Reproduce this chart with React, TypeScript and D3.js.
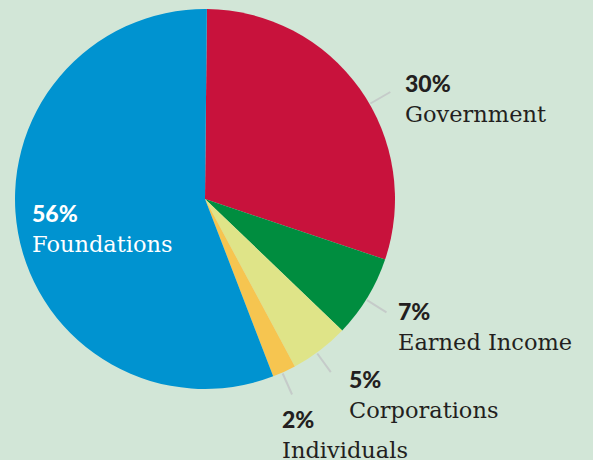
import React, { useEffect, useRef } from 'react';
import * as d3 from 'd3';

// Chart values
const categories = ['Government', 'Earned Income', 'Corporations', 'Individuals', 'Foundations'];
const shares = [30, 7, 5, 2, 56];
const colors = ['#C8123C', '#008D3F', '#DFE488', '#F6C550', '#0093D0'];

// Label layout (leader angle in degrees, text anchor point)
const labelLayout = [
  { angle: 60, x: 405, y: 92, leader: true, dark: true },
  { angle: 122, x: 398, y: 320, leader: true, dark: true },
  { angle: 144, x: 349, y: 388, leader: true, dark: true },
  { angle: 156, x: 282, y: 428, leader: true, dark: true },
  { angle: 0, x: 32, y: 222, leader: false, dark: false },
];

const W = 593;
const H = 460;

export default function App() {
  const svgRef = useRef<SVGSVGElement>(null);

  useEffect(() => {
    if (!svgRef.current) return;
    const svg = d3.select(svgRef.current);
    svg.selectAll('*').remove();

    const cx = 205;
    const cy = 199;
    const r = 190;

    svg.append('rect').attr('width', W).attr('height', H).attr('fill', '#D2E6D7');

    const pie = d3.pie<number>().sort(null).value(d => d).startAngle(0.01).endAngle(Math.PI * 2 + 0.01);
    const arc = d3.arc<d3.PieArcDatum<number>>().innerRadius(0).outerRadius(r);

    const g = svg.append('g').attr('transform', `translate(${cx},${cy})`);
    g.selectAll('path')
      .data(pie(shares))
      .enter()
      .append('path')
      .attr('d', arc)
      .attr('fill', (_, i) => colors[i]);

    // Leader lines
    labelLayout.forEach(l => {
      if (!l.leader) return;
      const a = (l.angle * Math.PI) / 180;
      g.append('line')
        .attr('x1', Math.sin(a) * (r + 1))
        .attr('y1', -Math.cos(a) * (r + 1))
        .attr('x2', Math.sin(a) * (r + 24))
        .attr('y2', -Math.cos(a) * (r + 24))
        .attr('stroke', '#C5CBC9')
        .attr('stroke-width', 2);
    });

    // Labels
    categories.forEach((name, i) => {
      const l = labelLayout[i];
      const fill = l.dark ? '#231F20' : '#FFFFFF';
      svg.append('text')
        .attr('x', l.x)
        .attr('y', l.y)
        .attr('fill', fill)
        .style('font-family', 'Lato, "DejaVu Sans", sans-serif')
        .style('font-weight', 900)
        .style('font-size', '23px')
        .text(`${shares[i]}%`);
      svg.append('text')
        .attr('x', l.x)
        .attr('y', l.y + 29.5)
        .attr('fill', fill)
        .style('font-family', '"DejaVu Serif", serif')
        .style('font-size', '22.5px')
        .text(name);
    });
  }, []);

  return (
    <svg
      ref={svgRef}
      width={W}
      height={H}
      style={{ position: 'absolute', left: 0, top: 0, display: 'block' }}
    />
  );
}
